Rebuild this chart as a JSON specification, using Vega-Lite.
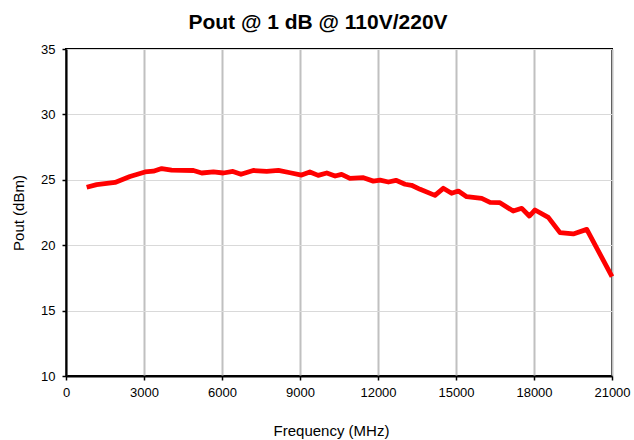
{
  "$schema": "https://vega.github.io/schema/vega-lite/v6.json",
  "width": 546,
  "height": 327,
  "autosize": {"type": "none"},
  "padding": {"left": 66, "top": 49, "right": 22, "bottom": 64},
  "background": "white",
  "title": {
    "text": "Pout @ 1 dB @ 110V/220V",
    "font": "Liberation Sans",
    "fontSize": 21,
    "fontWeight": "bold",
    "color": "#000000",
    "anchor": "middle",
    "frame": "group",
    "dx": -21,
    "offset": 10
  },
  "data": {
    "values": [
      {"f": 795, "p": 24.43},
      {"f": 1180, "p": 24.63},
      {"f": 1885, "p": 24.8},
      {"f": 2460, "p": 25.25},
      {"f": 3040, "p": 25.6},
      {"f": 3360, "p": 25.66},
      {"f": 3680, "p": 25.86},
      {"f": 4060, "p": 25.74},
      {"f": 4900, "p": 25.71},
      {"f": 5220, "p": 25.52},
      {"f": 5670, "p": 25.61},
      {"f": 6050, "p": 25.52},
      {"f": 6420, "p": 25.64},
      {"f": 6730, "p": 25.42},
      {"f": 7200, "p": 25.71},
      {"f": 7720, "p": 25.64},
      {"f": 8170, "p": 25.72},
      {"f": 8620, "p": 25.54},
      {"f": 9060, "p": 25.36},
      {"f": 9380, "p": 25.6},
      {"f": 9700, "p": 25.34},
      {"f": 10030, "p": 25.52},
      {"f": 10350, "p": 25.29},
      {"f": 10600, "p": 25.42},
      {"f": 10920, "p": 25.11},
      {"f": 11440, "p": 25.16},
      {"f": 11820, "p": 24.9},
      {"f": 12080, "p": 24.98},
      {"f": 12400, "p": 24.83},
      {"f": 12690, "p": 24.96},
      {"f": 13040, "p": 24.66},
      {"f": 13290, "p": 24.58},
      {"f": 13620, "p": 24.27},
      {"f": 14190, "p": 23.81},
      {"f": 14510, "p": 24.35},
      {"f": 14830, "p": 23.97},
      {"f": 15090, "p": 24.14},
      {"f": 15410, "p": 23.71},
      {"f": 15990, "p": 23.58},
      {"f": 16310, "p": 23.28},
      {"f": 16690, "p": 23.25},
      {"f": 17200, "p": 22.61},
      {"f": 17530, "p": 22.82},
      {"f": 17820, "p": 22.23},
      {"f": 18040, "p": 22.69},
      {"f": 18550, "p": 22.13},
      {"f": 19000, "p": 20.96},
      {"f": 19510, "p": 20.86},
      {"f": 20030, "p": 21.21},
      {"f": 21000, "p": 17.6}
    ]
  },
  "mark": {"type": "line", "color": "#ff0000", "strokeWidth": 4.8, "strokeJoin": "round", "strokeCap": "butt"},
  "encoding": {
    "x": {
      "field": "f",
      "type": "quantitative",
      "scale": {"domain": [0, 21000], "nice": false, "zero": true},
      "axis": {
        "title": "Frequency (MHz)",
        "values": [0, 3000, 6000, 9000, 12000, 15000, 18000, 21000],
        "format": "d",
        "gridColor": "#c0c0c0",
        "gridWidth": 2,
        "labelPadding": 6,
        "labelFlush": false,
        "labelOverlap": false,
        "titleX": 265,
        "titleY": 54,
        "titleAlign": "center",
        "titleBaseline": "middle"
      }
    },
    "y": {
      "field": "p",
      "type": "quantitative",
      "scale": {"domain": [10, 35], "nice": false, "zero": false},
      "axis": {
        "title": "Pout (dBm)",
        "values": [10, 15, 20, 25, 30, 35],
        "gridColor": "#d9d9d9",
        "gridWidth": 1,
        "labelPadding": 7,
        "labelFlush": false,
        "labelOverlap": false,
        "titleAngle": -90,
        "titleX": -48,
        "titleY": 163.5,
        "titleBaseline": "middle",
        "titleAlign": "center"
      }
    }
  },
  "config": {
    "view": {"stroke": "#000000", "strokeWidth": 2},
    "axis": {
      "domainColor": "#000000",
      "domainWidth": 2,
      "tickColor": "#000000",
      "tickWidth": 1.5,
      "tickSize": 4,
      "labelFont": "Liberation Sans",
      "labelFontSize": 13,
      "labelColor": "#000000",
      "titleFont": "Liberation Sans",
      "titleFontSize": 15,
      "titleFontWeight": "normal",
      "titleColor": "#000000",
      "grid": true
    }
  }
}
